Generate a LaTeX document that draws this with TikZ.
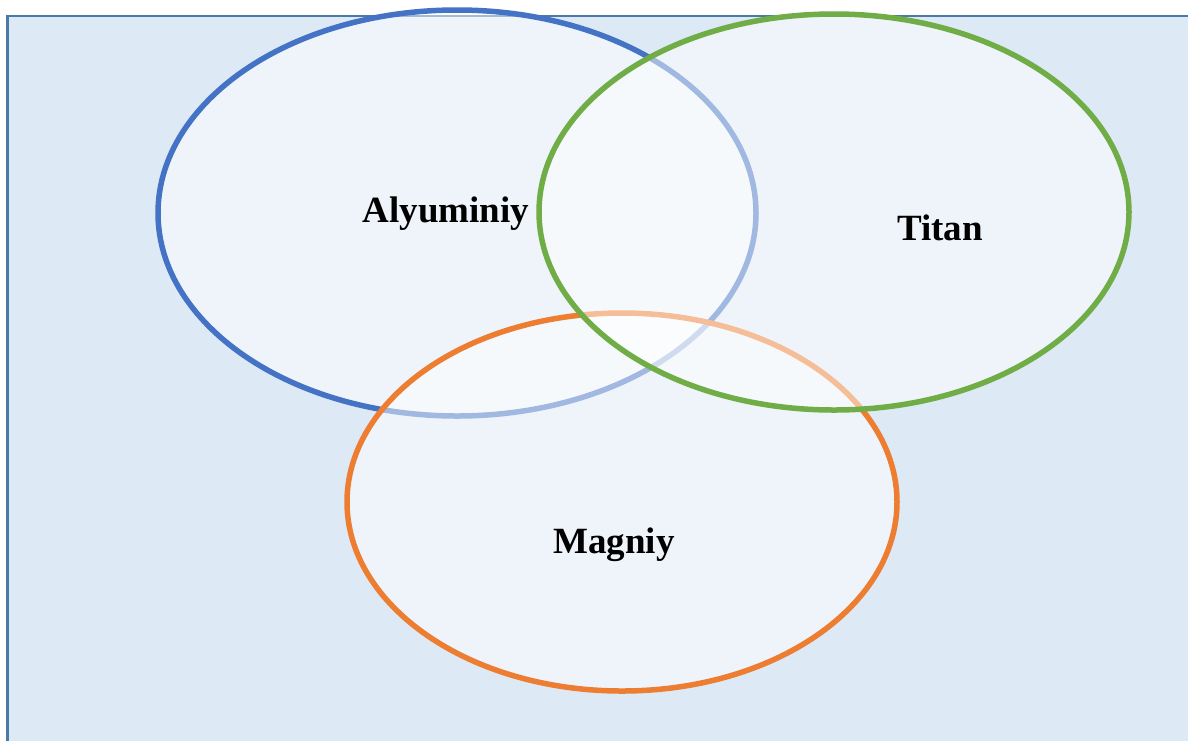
\documentclass[tikz,border=0pt]{standalone}
\usepackage{fontspec}
\setmainfont{Liberation Serif}
\definecolor{bgfill}{HTML}{DDE9F5}
\definecolor{bgline}{HTML}{4A7AA8}
\definecolor{cblue}{HTML}{4472C4}
\definecolor{cgreen}{HTML}{70AD47}
\definecolor{corange}{HTML}{ED7D31}
\tikzset{
  setring/.style={line width=5.5pt, fill=white, fill opacity=0.5, draw opacity=1},
  setlabel/.style={font=\fontsize{37}{41}\selectfont\bfseries, text=black, inner sep=0pt}
}
\begin{document}
\begin{tikzpicture}[x=1pt,y=-1pt]
\useasboundingbox (0,0) rectangle (1188,740);
\clip (0,0) rectangle (1188,740);
\draw[fill=bgfill, draw=bgline, line width=2.8pt] (7.5,16) rectangle (1200,760);
\draw[setring, draw=cblue] (457,213) ellipse [x radius=299, y radius=203];
\draw[setring, draw=corange] (622,502) ellipse [x radius=275, y radius=189];
\draw[setring, draw=cgreen] (834,212) ellipse [x radius=295, y radius=198];
\node[setlabel] (al) at (446,214) {Alyuminiy};
\node[setlabel] (ti) at (940,228) {Titan};
\node[setlabel] (mg) at (614,545) {Magniy};
\end{tikzpicture}
\end{document}
